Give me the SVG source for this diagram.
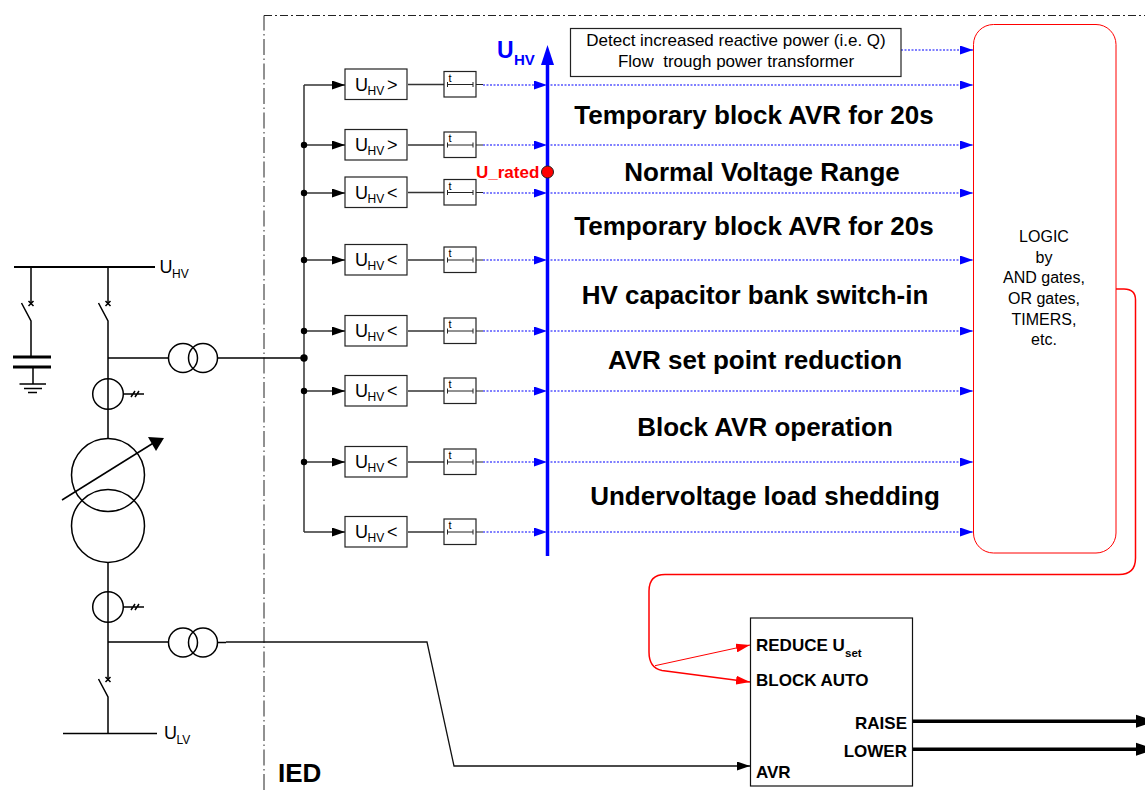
<svg xmlns="http://www.w3.org/2000/svg" width="1145" height="791" viewBox="0 0 1145 791">
<style>
text{font-family:"Liberation Sans",Arial,sans-serif;fill:#000}
.l{fill:none;stroke:#000;stroke-width:1.500}
.g{fill:none;stroke:#333;stroke-width:1.500}
.b{fill:#fff;stroke:#222;stroke-width:1.200}
.d{fill:none;stroke:#00f;stroke-width:1.100;stroke-dasharray:2 1.500}
.t{font-size:18px}
.s{font-size:12px}
.h{font-size:26px;font-weight:bold;text-anchor:middle}
.a{font-size:17px;font-weight:bold}
.w{font-size:17px;text-anchor:middle}
.lg{font-size:16px;text-anchor:middle}
.dash{fill:none;stroke:#222;stroke-width:1}
</style>
<defs>
<marker id="ab" markerUnits="userSpaceOnUse" markerWidth="13" markerHeight="9" refX="13" refY="4.500" orient="auto"><path d="M0 0L13 4.500L0 9Z" fill="#000"/></marker>
<marker id="bb" markerUnits="userSpaceOnUse" markerWidth="13" markerHeight="9" refX="13" refY="4.500" orient="auto"><path d="M0 0L13 4.500L0 9Z" fill="#00f"/></marker>
<marker id="rb" markerUnits="userSpaceOnUse" markerWidth="14" markerHeight="9" refX="14" refY="4.500" orient="auto"><path d="M0 0L14 4.500L0 9Z" fill="#f00"/></marker>
<g id="block">
<rect class="b" x="345" y="-15.500" width="62" height="30.500"/>
<path class="g" d="M408 0H444"/>
<rect class="b" x="444" y="-13" width="32" height="25.500"/>
<path d="M447.500 -2.500V2.500M473 -2.500V2.500M447.500 0H473M476 0H483" fill="none" stroke="#222" stroke-width="1"/>
<text x="448.500" y="-3" font-size="11">t</text>
<text class="t" x="355" y="6">U</text><text class="s" x="367.500" y="10">HV</text>
</g>
</defs>

<g id="boundary">
<path class="dash" d="M264 790V15.500" stroke-dasharray="16 3.500 1.500 3.500"/>
<path class="dash" d="M264 15.500H1145" stroke-dasharray="8 3 2 3"/>
<text x="278" y="782" font-size="26" font-weight="bold">IED</text>
</g>

<g id="connectors">
<path class="g" d="M304 85V532"/>
<path class="g" d="M304 85H345" marker-end="url(#ab)"/>
<path class="g" d="M304 145H345" marker-end="url(#ab)"/>
<path class="g" d="M304 193H345" marker-end="url(#ab)"/>
<path class="g" d="M304 260H345" marker-end="url(#ab)"/>
<path class="g" d="M304 331H345" marker-end="url(#ab)"/>
<path class="g" d="M304 391H345" marker-end="url(#ab)"/>
<path class="g" d="M304 462H345" marker-end="url(#ab)"/>
<path class="g" d="M304 532H345" marker-end="url(#ab)"/>
<path class="d" d="M901 50H973" marker-end="url(#bb)"/>
<path class="d" d="M483 85H547" marker-end="url(#bb)"/><path class="d" d="M547 85H973" marker-end="url(#bb)"/>
<path class="d" d="M483 145H547" marker-end="url(#bb)"/><path class="d" d="M547 145H973" marker-end="url(#bb)"/>
<path class="d" d="M483 193H547" marker-end="url(#bb)"/><path class="d" d="M547 193H973" marker-end="url(#bb)"/>
<path class="d" d="M483 260H547" marker-end="url(#bb)"/><path class="d" d="M547 260H973" marker-end="url(#bb)"/>
<path class="d" d="M483 331H547" marker-end="url(#bb)"/><path class="d" d="M547 331H973" marker-end="url(#bb)"/>
<path class="d" d="M483 391H547" marker-end="url(#bb)"/><path class="d" d="M547 391H973" marker-end="url(#bb)"/>
<path class="d" d="M483 462H547" marker-end="url(#bb)"/><path class="d" d="M547 462H973" marker-end="url(#bb)"/>
<path class="d" d="M483 532H547" marker-end="url(#bb)"/><path class="d" d="M547 532H973" marker-end="url(#bb)"/>
<path d="M547.500 556V64" fill="none" stroke="#00f" stroke-width="3.500"/>
<path d="M541 65L547.500 45L554 65Z" fill="#00f"/>
<path d="M1116 289H1124Q1135.500 289 1135.500 300V558Q1135.500 574.500 1119 574.500H665Q649 574.500 649 591V652Q649 668 662 670.500L750 682" fill="none" stroke="#f00" stroke-width="1.500" marker-end="url(#rb)"/>
<path d="M655 665.700L750 645" fill="none" stroke="#f00" stroke-width="1" marker-end="url(#rb)"/>
<path d="M226 642H427L454 766H750" fill="none" stroke="#111" stroke-width="1.300" marker-end="url(#ab)"/>
<path d="M912 721.300H1145M912 749.300H1145" fill="none" stroke="#000" stroke-width="3.500"/>
<path d="M1136 714.800L1156 721.300L1136 727.800ZM1136 742.800L1156 749.300L1136 755.800Z" fill="#000"/>
<path class="l" d="M217 358H304"/>
</g>

<g id="junctions" fill="#000">
<circle cx="304" cy="145" r="3.200"/><circle cx="304" cy="193" r="3.200"/><circle cx="304" cy="260" r="3.200"/><circle cx="304" cy="331" r="3.200"/><circle cx="304" cy="358" r="3.700"/><circle cx="304" cy="391" r="3.200"/><circle cx="304" cy="462" r="3.200"/>
</g>

<g id="n1"><use href="#block" y="84.500"/><text class="t" x="387" y="90.500">&gt;</text></g>
<g id="n2"><use href="#block" y="145"/><text class="t" x="387" y="151">&gt;</text></g>
<g id="n3"><use href="#block" y="192.500"/><text class="t" x="387" y="198.500">&lt;</text></g>
<g id="n4"><use href="#block" y="260"/><text class="t" x="387" y="266">&lt;</text></g>
<g id="n5"><use href="#block" y="331"/><text class="t" x="387" y="337">&lt;</text></g>
<g id="n6"><use href="#block" y="391"/><text class="t" x="387" y="397">&lt;</text></g>
<g id="n7"><use href="#block" y="462"/><text class="t" x="387" y="468">&lt;</text></g>
<g id="n8"><use href="#block" y="532"/><text class="t" x="387" y="538">&lt;</text></g>

<g id="uhv-axis">
<text x="497" y="58" font-size="23" font-weight="bold" style="fill:#00f">U</text>
<text x="514" y="65" font-size="15" font-weight="bold" style="fill:#00f">HV</text>
<text x="476" y="178" font-size="17" font-weight="bold" style="fill:#f00">U_rated</text>
<circle cx="547.500" cy="172" r="6" fill="#f00" stroke="#222" stroke-width="1"/>
</g>

<g id="detect">
<rect class="b" x="570.500" y="28.500" width="330.500" height="48"/>
<text class="w" x="736" y="46">Detect increased reactive power (i.e. Q)</text>
<text class="w" x="736" y="67" xml:space="preserve">Flow  trough power transformer</text>
</g>

<g id="ranges">
<text class="h" x="754" y="124">Temporary block AVR for 20s</text>
<text class="h" x="762" y="181">Normal Voltage Range</text>
<text class="h" x="754" y="235">Temporary block AVR for 20s</text>
<text class="h" x="755" y="304">HV capacitor bank switch-in</text>
<text class="h" x="755" y="369">AVR set point reduction</text>
<text class="h" x="765" y="436">Block AVR operation</text>
<text class="h" x="765" y="505">Undervoltage load shedding</text>
</g>

<g id="logic">
<rect x="973.500" y="24.500" width="142.500" height="528.500" rx="20" fill="#fff" stroke="#f00" stroke-width="1"/>
<text class="lg" x="1044" y="242">LOGIC</text>
<text class="lg" x="1044" y="263">by</text>
<text class="lg" x="1044" y="283">AND gates,</text>
<text class="lg" x="1044" y="304">OR gates,</text>
<text class="lg" x="1044" y="325">TIMERS,</text>
<text class="lg" x="1044" y="345">etc.</text>
</g>

<g id="avr">
<rect x="750.500" y="618" width="162" height="168" fill="#fff" stroke="#111" stroke-width="1.200"/>
<text class="a" x="756" y="651">REDUCE U</text><text x="845" y="657" font-size="11.500" font-weight="bold">set</text>
<text class="a" x="756" y="686">BLOCK AUTO</text>
<text class="a" x="907" y="729" text-anchor="end">RAISE</text>
<text class="a" x="907" y="757" text-anchor="end">LOWER</text>
<text class="a" x="756" y="778">AVR</text>
</g>

<g id="hv-bus">
<path d="M14 267H155" fill="none" stroke="#000" stroke-width="2"/>
<text x="159.500" y="273" font-size="18">U</text><text x="172" y="278" font-size="12">HV</text>
</g>

<g id="cap-branch">
<path class="l" d="M31 267V303M21.500 303L31 321V357M33 367V384"/>
<path d="M28.500 301L33.500 306M33.500 301L28.500 306" stroke="#000" stroke-width="1.500"/>
<path d="M13 357H51M13 367H51" stroke="#000" stroke-width="3" fill="none"/>
<path d="M19.500 384H46M24 388.500H42M28 392.500H37" stroke="#000" stroke-width="1.300" fill="none"/>
</g>

<g id="hv-feeder">
<path class="l" d="M108 267V303M98.500 303L108 321V438M108 358H169"/>
<path d="M105.500 301L110.500 306M110.500 301L105.500 306" stroke="#000" stroke-width="1.500"/>
<circle class="l" cx="183" cy="358" r="14.500"/><circle class="l" cx="203" cy="358" r="14.500"/>
<circle class="l" cx="108" cy="394" r="15.300"/>
<path class="l" d="M123.500 394H144M131 397L135 391M135 397L139 391" stroke-width="1.200"/>
</g>

<g id="power-transformer">
<circle class="l" cx="108" cy="475" r="36.500"/><circle class="l" cx="108" cy="526" r="36.500"/>
<path class="l" d="M62 500L155 442"/><path d="M148 437L164 438L156 451Z" fill="#000"/>
</g>

<g id="lv-feeder">
<path class="l" d="M108 562V679M98.500 679L108 697V733M63 733.500H157M108 642H169"/>
<path d="M105.500 677L110.500 682M110.500 677L105.500 682" stroke="#000" stroke-width="1.500"/>
<circle class="l" cx="108" cy="607" r="15.300"/>
<path class="l" d="M123.500 607H144M131 610L135 604M135 610L139 604" stroke-width="1.200"/>
<circle class="l" cx="183" cy="642.500" r="14.500"/><circle class="l" cx="203" cy="642.500" r="14.500"/>
<path class="l" d="M217 642.500H226"/>
<text x="164" y="739" font-size="18">U</text><text x="176.500" y="744" font-size="12">LV</text>
</g>
</svg>
